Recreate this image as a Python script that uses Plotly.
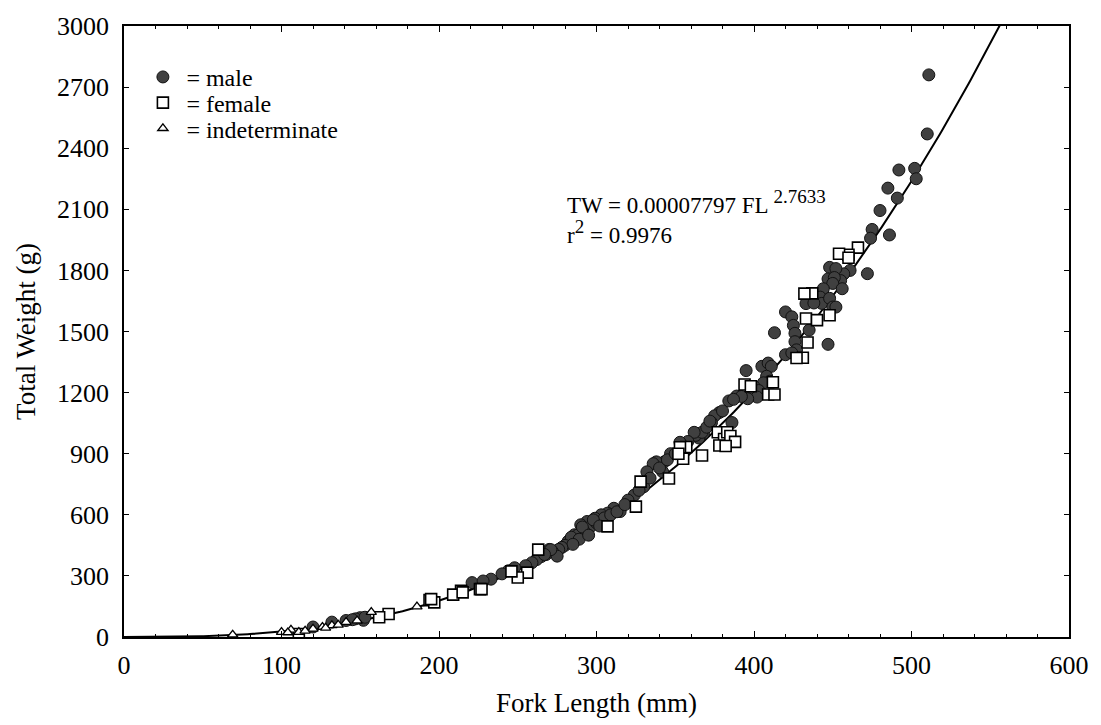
import numpy as np
import plotly.graph_objects as go

# ---- data (Fork Length mm, Total Weight g) ----
male_fl = [511, 510, 502, 503, 492, 491, 485, 480, 475, 474, 486, 472,
           461, 457, 455, 448, 447, 452, 451, 450, 444, 456, 442, 443, 448, 450, 452, 433, 438, 447,
           420, 424, 425, 426, 426, 427, 413, 435, 420, 424,
           395, 405, 409, 411, 408, 410, 406, 400, 403, 398, 402, 396, 389, 384, 386, 392, 387,
           378, 375, 373, 368, 365, 363, 367, 370, 372, 380, 362, 358, 354, 353,
           347, 343, 342, 338, 336, 332, 330, 334, 340, 345, 350, 324, 320, 327,
           315, 311, 307, 303, 299, 294, 290, 286, 282, 296, 300, 305, 309, 313, 318, 292, 288, 284,
           298, 302, 291, 289, 295, 280, 285, 278, 276, 272, 270, 268, 265, 262, 275, 271, 267,
           259, 255, 248, 244, 240, 233, 221, 228,
           152, 150, 147, 153, 141, 120, 132, 145]
male_tw = [2760, 2470, 2301, 2250, 2293, 2155, 2204, 2094, 2001, 1958, 1974, 1784,
           1800, 1783, 1750, 1815, 1758, 1809, 1765, 1736, 1710, 1710, 1669, 1638, 1663, 1620, 1620, 1637, 1640, 1437,
           1596, 1572, 1530, 1491, 1450, 1410, 1494, 1507, 1386, 1395,
           1308, 1329, 1345, 1329, 1280, 1256, 1248, 1230, 1210, 1195, 1178, 1170, 1183, 1159, 1053, 1181, 1167,
           1102, 1086, 1053, 1000, 977, 990, 1005, 1030, 1060, 1110, 1005, 960, 945, 956,
           900, 860, 811, 860, 851, 811, 738, 780, 830, 870, 900, 697, 672, 720,
           616, 632, 608, 600, 583, 567, 551, 502, 470, 540, 560, 585, 600, 615, 650, 520, 500, 490,
           575, 545, 540, 480, 500, 450, 455, 440, 430, 420, 430, 405, 395, 380, 397, 429, 405,
           365, 350, 340, 325, 310, 284, 267, 275,
           82, 95, 89, 97, 81, 49, 73, 85]

female_fl = [466, 460, 454, 460, 437, 432, 433, 440, 448, 434, 431, 427,
             394, 412, 409, 398, 413, 377, 381, 378, 367, 383, 385, 388, 382,
             357, 353, 355, 346, 328, 325, 307, 263, 256, 250, 246, 226, 214, 209, 215,
             194, 197, 195, 168, 162, 111, 227, 352]
female_tw = [1912, 1877, 1882, 1862, 1687, 1686, 1564, 1556, 1580, 1446, 1371, 1370,
             1240, 1251, 1191, 1231, 1191, 1005, 972, 940, 891, 1005, 987, 958, 938,
             933, 932, 875, 778, 763, 640, 543, 429, 316, 292, 322, 235, 227, 208, 219,
             181, 170, 186, 113, 97, 15, 235, 900]

indet_fl = [69, 100, 106, 111, 120, 126, 132, 141, 157, 186, 104, 115, 128, 136, 148]
indet_tw = [11, 24, 35, 24, 40, 49, 57, 73, 122, 149, 22, 30, 45, 60, 80]

# fitted relation TW = a * FL^b
fit_a = 0.00007797
fit_b = 2.7633
r_squared = 0.9976

x_ticks = [0, 100, 200, 300, 400, 500, 600]
y_ticks = [0, 300, 600, 900, 1200, 1500, 1800, 2100, 2400, 2700, 3000]

FONT = "Liberation Serif"

fig = go.Figure()

fl_curve = np.linspace(0, 560, 400)
fig.add_trace(go.Scatter(x=fl_curve, y=fit_a * fl_curve ** fit_b, mode="lines",
                         line=dict(color="black", width=2), showlegend=False,
                         hoverinfo="skip"))

fig.add_trace(go.Scatter(x=male_fl, y=male_tw, mode="markers", name="= male",
                         legend="legend",
                         marker=dict(symbol="circle", size=12, color="#404040",
                                     line=dict(color="#111111", width=1))))
fig.add_trace(go.Scatter(x=female_fl, y=female_tw, mode="markers", name="= female",
                         legend="legend2",
                         marker=dict(symbol="square", size=11, color="white",
                                     line=dict(color="black", width=1.6))))
fig.add_trace(go.Scatter(x=indet_fl, y=indet_tw, mode="markers", name="= indeterminate",
                         legend="legend3",
                         marker=dict(symbol="triangle-up", size=9, color="white",
                                     line=dict(color="black", width=1.3))))

sup_style = '<sup><span style="font-size:19px">%s</span></sup>'
eq_text = ("TW = %.8f FL " % fit_a + sup_style % ("%.4f" % fit_b)
           + "<br>r" + sup_style % "2" + " = %.4f" % r_squared)
fig.add_annotation(x=280, y=2062, xref="x", yref="y", xanchor="left", yanchor="middle",
                   align="left", text=eq_text, showarrow=False,
                   font=dict(family=FONT, size=23, color="black"))

axis_common = dict(showline=True, linecolor="black", linewidth=1.5, mirror="ticks",
                   ticks="inside", tickcolor="black", showgrid=False, zeroline=False,
                   tickfont=dict(family=FONT, size=26, color="black"))

fig.update_xaxes(range=[0, 600], tickvals=x_ticks, ticklen=6, tickwidth=1.2,
                 minor=dict(dtick=20, ticks="inside", ticklen=3, tickcolor="black"),
                 ticklabelstandoff=4,
                 title=dict(text="Fork Length (mm)", standoff=14,
                            font=dict(family=FONT, size=27, color="black")),
                 **axis_common)
fig.update_yaxes(range=[0, 3000], tickvals=y_ticks, ticklen=5, tickwidth=1.2,
                 ticklabelstandoff=8,
                 title=dict(text="Total Weight (g)", standoff=14,
                            font=dict(family=FONT, size=27, color="black")),
                 **axis_common)

leg_common = dict(x=0.0163, xanchor="left", yanchor="middle", bgcolor="rgba(0,0,0,0)",
                  font=dict(family=FONT, size=24, color="black"), itemwidth=37)
fig.update_layout(width=1101, height=725, margin=dict(l=124, r=27, t=23, b=86),
                  paper_bgcolor="white", plot_bgcolor="white",
                  legend=dict(y=0.916, **leg_common),
                  legend2=dict(y=0.874, **leg_common),
                  legend3=dict(y=0.832, **leg_common))

fig.write_html("out.html")
